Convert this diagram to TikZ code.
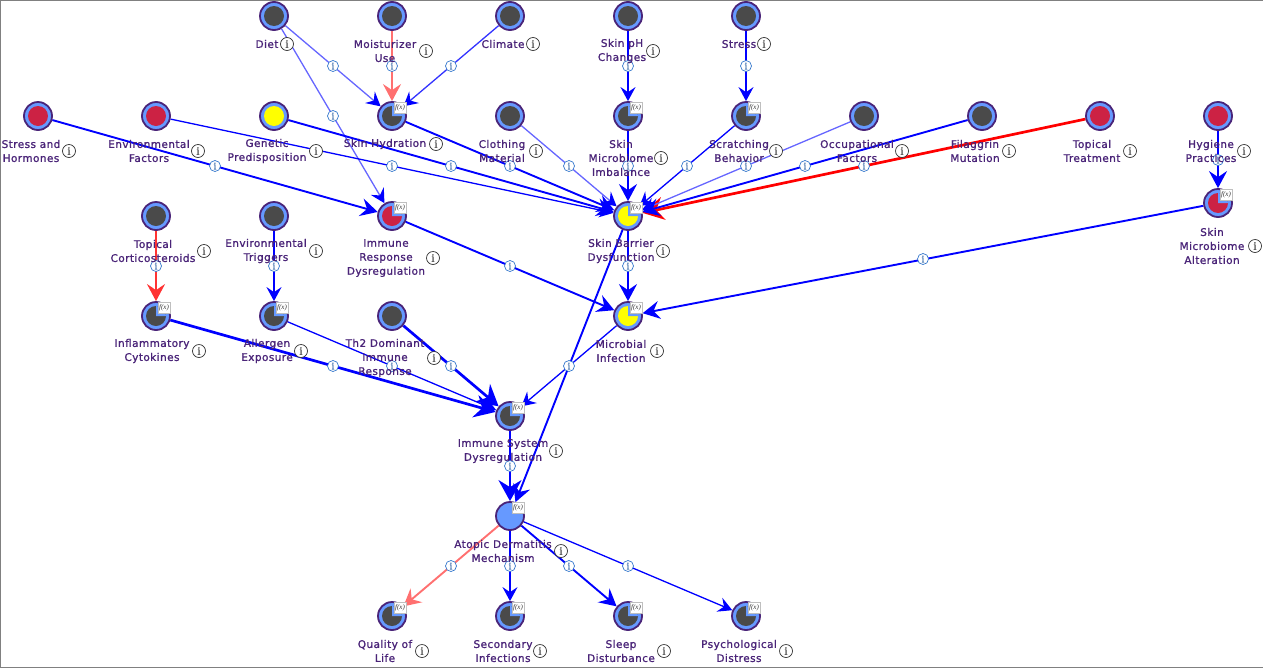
\documentclass[tikz,border=0pt]{standalone}
\usepackage{fontspec}
\newfontfamily\varfont{DejaVu Sans}[FakeBold=1.2, LetterSpace=4]
\newfontfamily\markfont{Liberation Serif}[FakeBold=0.9]
\newfontfamily\fxfont{Liberation Serif}
\usetikzlibrary{arrows.meta}
\pgfdeclarelayer{edgelayer}
\pgfsetlayers{edgelayer,main}
\definecolor{varpurple}{HTML}{4A2478}
\definecolor{varblue}{HTML}{6699FF}
\definecolor{vargray}{HTML}{4A4A4A}
\definecolor{varred}{HTML}{CC2244}
\definecolor{varyellow}{HTML}{FFFF00}
\definecolor{lightblue}{HTML}{6666FF}
\definecolor{lightred}{HTML}{FF7070}
\definecolor{inforing}{HTML}{3377CC}
\tikzset{
  varshape/.style={circle, draw=varpurple, line width=1.8pt, fill=varblue, inner sep=0pt, minimum size=28pt},
  fxlabel/.style={label={[fxbox, xshift=8pt, yshift=8.5pt]center:{\fxfont\itshape f(x)}}},
  plainvar/.style={varshape,
    path picture={\fill[#1] (path picture bounding box.center) circle (10pt);}},
  fvar/.style={varshape, fxlabel,
    path picture={\fill[#1] (path picture bounding box.center) circle (10pt);
      \fill[varblue] (path picture bounding box.center) -- ++(10pt,0pt) arc (0:90:10pt) -- cycle;}},
  topvar/.style={varshape, fxlabel},
  fxbox/.style={fill=white, draw=black!25, line width=.3pt, inner sep=0pt, minimum width=12.5pt, minimum height=11.5pt, font=\fontsize{7pt}{7pt}\selectfont, text=black!80},
  varlabel/.style={align=center, text=varpurple, font=\varfont\fontsize{10.5pt}{14pt}\selectfont, inner sep=0pt},
  nodeinfo/.style={circle, draw=black!80, fill=white, line width=.7pt, inner sep=0pt, minimum size=13pt, font=\markfont\fontsize{11pt}{11pt}\selectfont, text=black!85},
  edgeinfo/.style={circle, draw=inforing, fill=white, line width=.7pt, inner sep=0pt, minimum size=11pt, font=\markfont\fontsize{10pt}{10pt}\selectfont, text=inforing!80!black},
  thinarc/.style={line width=1.3pt, -{Stealth[length=14pt, width=15pt, inset=5pt]}},
  midarc/.style={line width=1.9pt, -{Stealth[length=17pt, width=18pt, inset=6pt]}},
  widearc/.style={line width=2.7pt, -{Stealth[length=21pt, width=23pt, inset=7pt]}},
  lightarc/.style={line width=1.3pt, lightblue, -{Stealth[length=14pt, width=15pt, inset=5pt, color=blue]}}
}
\begin{document}
\begin{tikzpicture}[x=1pt, y=-1pt]
    \useasboundingbox (0,0) rectangle (1263,667);
    \draw[black!50, line width=1pt] (0,0) rectangle (1263,667);

        % Draw the variables
    \node[plainvar=vargray] (diet) at (274,16) {};
    \node[plainvar=vargray] (moisturizer) at (392,16) {};
    \node[plainvar=vargray] (climate) at (510,16) {};
    \node[plainvar=vargray] (skinph) at (628,16) {};
    \node[plainvar=vargray] (stress) at (746,16) {};
    \node[plainvar=varred] (hormones) at (38,116) {};
    \node[plainvar=varred] (envfactors) at (156,116) {};
    \node[plainvar=varyellow] (genetic) at (274,116) {};
    \node[plainvar=vargray] (clothing) at (510,116) {};
    \node[plainvar=vargray] (occupational) at (864,116) {};
    \node[plainvar=vargray] (filaggrin) at (982,116) {};
    \node[plainvar=varred] (treatment) at (1100,116) {};
    \node[plainvar=varred] (hygiene) at (1218,116) {};
    \node[plainvar=vargray] (corticosteroids) at (156,216) {};
    \node[plainvar=vargray] (triggers) at (274,216) {};
    \node[plainvar=vargray] (th2) at (392,316) {};
    \node[fvar=vargray] (hydration) at (392,116) {};
    \node[fvar=vargray] (imbalance) at (628,116) {};
    \node[fvar=vargray] (scratching) at (746,116) {};
    \node[fvar=varred] (immuneresp) at (392,216) {};
    \node[fvar=varyellow] (barrier) at (628,216) {};
    \node[fvar=varred] (alteration) at (1218,203) {};
    \node[fvar=vargray] (cytokines) at (156,316) {};
    \node[fvar=vargray] (allergen) at (274,316) {};
    \node[fvar=varyellow] (microbial) at (628,316) {};
    \node[fvar=vargray] (immunesys) at (510,416) {};
    \node[topvar] (atopic) at (510,516) {};
    \node[fvar=vargray] (quality) at (392,616) {};
    \node[fvar=vargray] (secondary) at (510,616) {};
    \node[fvar=vargray] (sleep) at (628,616) {};
    \node[fvar=vargray] (distress) at (746,616) {};

        % Draw the influences
    \begin{pgfonlayer}{edgelayer}
    \draw[widearc, red] (treatment) -- (barrier);
    \draw[lightarc] (diet) -- (hydration);
    \draw[lightarc] (diet) -- (immuneresp);
    \draw[midarc, lightred] (moisturizer) -- (hydration);
    \draw[lightarc, blue!80!white] (climate) -- (hydration);
    \draw[thinarc, blue] (skinph) -- (imbalance);
    \draw[thinarc, blue] (stress) -- (scratching);
    \draw[thinarc, blue] (envfactors) -- (barrier);
    \draw[midarc, blue] (genetic) -- (barrier);
    \draw[midarc, blue] (hydration) -- (barrier);
    \draw[lightarc] (clothing) -- (barrier);
    \draw[midarc, blue] (imbalance) -- (barrier);
    \draw[thinarc, blue] (scratching) -- (barrier);
    \draw[lightarc] (occupational) -- (barrier);
    \draw[midarc, blue] (filaggrin) -- (barrier);
    \draw[midarc, blue] (hormones) -- (immuneresp);
    \draw[midarc, blue] (hygiene) -- (alteration);
    \draw[midarc, blue] (alteration) -- (microbial);
    \draw[midarc, blue] (immuneresp) -- (microbial);
    \draw[midarc, blue] (barrier) -- (microbial);
    \draw[midarc, blue] (barrier) -- (atopic);
    \draw[midarc, red!80!white] (corticosteroids) -- (cytokines);
    \draw[thinarc, blue] (triggers) -- (allergen);
    \draw[widearc, blue] (cytokines) -- (immunesys);
    \draw[thinarc, blue] (allergen) -- (immunesys);
    \draw[widearc, blue] (th2) -- (immunesys);
    \draw[thinarc, blue] (microbial) -- (immunesys);
    \draw[widearc, blue] (immunesys) -- (atopic);
    \draw[midarc, lightred] (atopic) -- (quality);
    \draw[thinarc, blue] (atopic) -- (secondary);
    \draw[midarc, blue] (atopic) -- (sleep);
    \draw[thinarc, blue] (atopic) -- (distress);
    \end{pgfonlayer}

        % Info marks on the influences
    \node[edgeinfo] (diet-hydration) at (333,66) {i};
    \node[edgeinfo] (diet-immuneresp) at (333,116) {i};
    \node[edgeinfo] (moisturizer-hydration) at (392,66) {i};
    \node[edgeinfo] (climate-hydration) at (451,66) {i};
    \node[edgeinfo] (skinph-imbalance) at (628,66) {i};
    \node[edgeinfo] (stress-scratching) at (746,66) {i};
    \node[edgeinfo] (hormones-immuneresp) at (215,166) {i};
    \node[edgeinfo] (envfactors-barrier) at (392,166) {i};
    \node[edgeinfo] (genetic-barrier) at (451,166) {i};
    \node[edgeinfo] (hydration-barrier) at (510,166) {i};
    \node[edgeinfo] (clothing-barrier) at (569,166) {i};
    \node[edgeinfo] (imbalance-barrier) at (628,166) {i};
    \node[edgeinfo] (scratching-barrier) at (687,166) {i};
    \node[edgeinfo] (occupational-barrier) at (746,166) {i};
    \node[edgeinfo] (filaggrin-barrier) at (805,166) {i};
    \node[edgeinfo] (treatment-barrier) at (864,166) {i};
    \node[edgeinfo] (hygiene-alteration) at (1218,160) {i};
    \node[edgeinfo] (corticosteroids-cytokines) at (156,266) {i};
    \node[edgeinfo] (triggers-allergen) at (274,266) {i};
    \node[edgeinfo] (immuneresp-microbial) at (510,266) {i};
    \node[edgeinfo] (barrier-microbial) at (628,266) {i};
    \node[edgeinfo] (alteration-microbial) at (923,259) {i};
    \node[edgeinfo] (cytokines-immunesys) at (333,366) {i};
    \node[edgeinfo] (allergen-immunesys) at (392,366) {i};
    \node[edgeinfo] (th2-immunesys) at (451,366) {i};
    \node[edgeinfo] (microbial-immunesys) at (569,366) {i};
    \node[edgeinfo] (immunesys-atopic) at (510,466) {i};
    \node[edgeinfo] (atopic-quality) at (451,566) {i};
    \node[edgeinfo] (atopic-secondary) at (510,566) {i};
    \node[edgeinfo] (atopic-sleep) at (569,566) {i};
    \node[edgeinfo] (atopic-distress) at (628,566) {i};

        % Variable names
    \node[varlabel] (diet-l) at (267,44) {Diet};
    \node[varlabel] (moisturizer-l) at (385,51) {Moisturizer\\Use};
    \node[varlabel] (climate-l) at (503,44) {Climate};
    \node[varlabel] (skinph-l) at (622,51) {Skin pH\\Changes};
    \node[varlabel] (stress-l) at (739,44) {Stress};
    \node[varlabel] (hormones-l) at (31,151) {Stress and\\Hormones};
    \node[varlabel] (envfactors-l) at (149,151) {Environmental\\Factors};
    \node[varlabel] (genetic-l) at (267,151) {Genetic\\Predisposition};
    \node[varlabel] (hydration-l) at (385,144) {Skin Hydration};
    \node[varlabel] (clothing-l) at (502,151) {Clothing\\Material};
    \node[varlabel] (imbalance-l) at (621,158) {Skin\\Microbiome\\Imbalance};
    \node[varlabel] (scratching-l) at (739,151) {Scratching\\Behavior};
    \node[varlabel] (occupational-l) at (857,151) {Occupational\\Factors};
    \node[varlabel] (filaggrin-l) at (975,151) {Filaggrin\\Mutation};
    \node[varlabel] (treatment-l) at (1092,151) {Topical\\Treatment};
    \node[varlabel] (hygiene-l) at (1211,151) {Hygiene\\Practices};
    \node[varlabel] (corticosteroids-l) at (153,251) {Topical\\Corticosteroids};
    \node[varlabel] (triggers-l) at (266,251) {Environmental\\Triggers};
    \node[varlabel] (immuneresp-l) at (386,258) {Immune\\Response\\Dysregulation};
    \node[varlabel] (barrier-l) at (621,251) {Skin Barrier\\Dysfunction};
    \node[varlabel] (alteration-l) at (1212,246) {Skin\\Microbiome\\Alteration};
    \node[varlabel] (cytokines-l) at (152,351) {Inflammatory\\Cytokines};
    \node[varlabel] (allergen-l) at (267,351) {Allergen\\Exposure};
    \node[varlabel] (th2-l) at (385,358) {Th2 Dominant\\Immune\\Response};
    \node[varlabel] (microbial-l) at (621,351) {Microbial\\Infection};
    \node[varlabel] (immunesys-l) at (503,451) {Immune System\\Dysregulation};
    \node[varlabel] (atopic-l) at (503,551) {Atopic Dermatitis\\Mechanism};
    \node[varlabel] (quality-l) at (385,651) {Quality of\\Life};
    \node[varlabel] (secondary-l) at (503,651) {Secondary\\Infections};
    \node[varlabel] (sleep-l) at (621,651) {Sleep\\Disturbance};
    \node[varlabel] (distress-l) at (739,651) {Psychological\\Distress};

        % Info marks beside the names
    \node[nodeinfo] (diet-i) at (287,44) {i};
    \node[nodeinfo] (moisturizer-i) at (426,51) {i};
    \node[nodeinfo] (climate-i) at (533,44) {i};
    \node[nodeinfo] (skinph-i) at (653,51) {i};
    \node[nodeinfo] (stress-i) at (764,44) {i};
    \node[nodeinfo] (hormones-i) at (69,151) {i};
    \node[nodeinfo] (envfactors-i) at (198,151) {i};
    \node[nodeinfo] (genetic-i) at (316,151) {i};
    \node[nodeinfo] (hydration-i) at (436,144) {i};
    \node[nodeinfo] (clothing-i) at (536,151) {i};
    \node[nodeinfo] (imbalance-i) at (661,158) {i};
    \node[nodeinfo] (scratching-i) at (776,151) {i};
    \node[nodeinfo] (occupational-i) at (902,151) {i};
    \node[nodeinfo] (filaggrin-i) at (1009,151) {i};
    \node[nodeinfo] (treatment-i) at (1130,151) {i};
    \node[nodeinfo] (hygiene-i) at (1244,151) {i};
    \node[nodeinfo] (corticosteroids-i) at (204,251) {i};
    \node[nodeinfo] (triggers-i) at (316,251) {i};
    \node[nodeinfo] (immuneresp-i) at (433,258) {i};
    \node[nodeinfo] (barrier-i) at (663,251) {i};
    \node[nodeinfo] (alteration-i) at (1255,246) {i};
    \node[nodeinfo] (cytokines-i) at (199,351) {i};
    \node[nodeinfo] (allergen-i) at (301,351) {i};
    \node[nodeinfo] (th2-i) at (434,358) {i};
    \node[nodeinfo] (microbial-i) at (657,351) {i};
    \node[nodeinfo] (immunesys-i) at (556,451) {i};
    \node[nodeinfo] (atopic-i) at (561,551) {i};
    \node[nodeinfo] (quality-i) at (422,651) {i};
    \node[nodeinfo] (secondary-i) at (540,651) {i};
    \node[nodeinfo] (sleep-i) at (664,651) {i};
    \node[nodeinfo] (distress-i) at (786,651) {i};
\end{tikzpicture}
\end{document}
